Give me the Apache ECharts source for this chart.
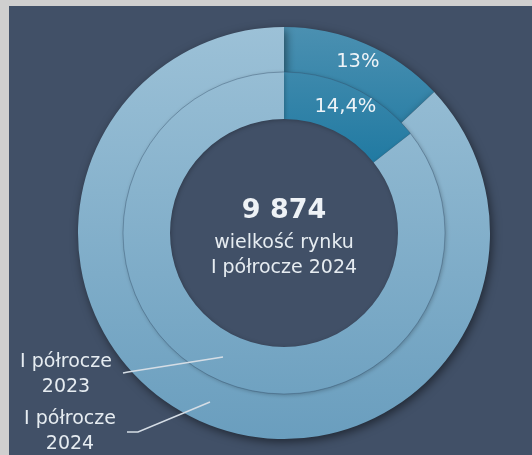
<!DOCTYPE html>
<html><head><meta charset="utf-8">
<script src="https://cdn.jsdelivr.net/npm/echarts@6/dist/echarts.min.js"></script>
<style>
html,body{margin:0;padding:0;width:532px;height:455px;background:#cfcfcf;overflow:hidden}
#bg{position:absolute;left:9px;top:6px;right:0;bottom:0;background:#415067}
#c{position:absolute;left:0;top:0;width:532px;height:455px}
</style></head>
<body><div id="bg"></div><div id="c"></div>
<script>
const periods = ['I półrocze 2024', 'I półrocze 2023'];
const highlightShare = [13, 14.4];
const otherShare = [87, 85.6];
const marketSize = 9874;
const centerCaption = ['wielkość rynku', 'I półrocze 2024'];

const fmtPct = v => String(v).replace('.', ',') + '%';
const fmtNum = v => String(v).replace(/\B(?=(\d{3})+(?!\d))/g, ' ');

const cx = 284, cy = 233;
const lightGrad = {type:'linear', global:true, x:0, y:27, x2:0, y2:439,
  colorStops:[{offset:0,color:'#9cc1d7'},{offset:1,color:'#6a9ebe'}]};
const darkGrad = {type:'linear', global:true, x:0, y:27, x2:0, y2:180,
  colorStops:[{offset:0,color:'#4b90b1'},{offset:1,color:'#1b77a0'}]};

const leaderPts = [
  [[210,402],[138,432],[127,432]],
  [[223,357],[128,372],[123,373]]
];
const labelPos = [{x:70, y:432}, {x:66, y:375}];

function makeSeries(i, radius){
  return {
    type:'pie', name: periods[i], center:[cx, cy], radius: radius,
    startAngle: 90, clockwise: true, silent: true, animation:false,
    itemStyle: i === 0 ? {shadowBlur:10, shadowColor:'rgba(0,0,0,0.5)', shadowOffsetX:2, shadowOffsetY:3}
                       : {shadowBlur:4, shadowColor:'rgba(0,0,0,0.25)', shadowOffsetX:1, shadowOffsetY:1},
    label:{show:true},
    labelLine:{show:false},
    labelLayout: function(p){
      if (p.dataIndex === 1) {
        return {x: labelPos[i].x, y: labelPos[i].y, align:'center', verticalAlign:'middle'};
      }
    },
    data:[
      {value: highlightShare[i], name:'udział',
        itemStyle:{color: darkGrad},
        label:{position:'inside', formatter: fmtPct(highlightShare[i]), color:'#eef3f7',
               fontSize:19.5, fontFamily:'DejaVu Sans'}},
      {value: otherShare[i], name:'pozostałe',
        itemStyle:{color: lightGrad},
        label:{position:'outside', formatter: periods[i].replace(' 20', '\n20'), color:'#e6ecf1',
               fontSize:19, lineHeight:25, align:'center', fontFamily:'DejaVu Sans'}}
    ]
  };
}

const chart = echarts.init(document.getElementById('c'), null, {renderer:'canvas'});
chart.setOption({
  backgroundColor:'transparent',
  series:[ makeSeries(0, [160, 206]), makeSeries(1, [114, 161]) ],
  graphic:[
    {type:'circle', z:50, silent:true, shape:{cx: cx, cy: cy, r: 161}, style:{stroke:'rgba(50,78,105,0.5)', lineWidth:0.8, fill:null}},
    {type:'polyline', z:100, silent:true, shape:{points: leaderPts[0]}, style:{stroke:'#d5dde5', lineWidth:1.5, fill:null}},
    {type:'polyline', z:100, silent:true, shape:{points: leaderPts[1]}, style:{stroke:'#d5dde5', lineWidth:1.5, fill:null}},
    {type:'text', x: cx, y: 211, style:{text: fmtNum(marketSize), fill:'#eef2f6', font:'bold 27px "DejaVu Sans"', align:'center', verticalAlign:'middle'}},
    {type:'text', x: cx, y: 243, style:{text: centerCaption[0], fill:'#e6ecf1', font:'19px "DejaVu Sans"', align:'center', verticalAlign:'middle'}},
    {type:'text', x: cx, y: 268, style:{text: centerCaption[1], fill:'#e6ecf1', font:'19px "DejaVu Sans"', align:'center', verticalAlign:'middle'}}
  ]
});
</script></body></html>
